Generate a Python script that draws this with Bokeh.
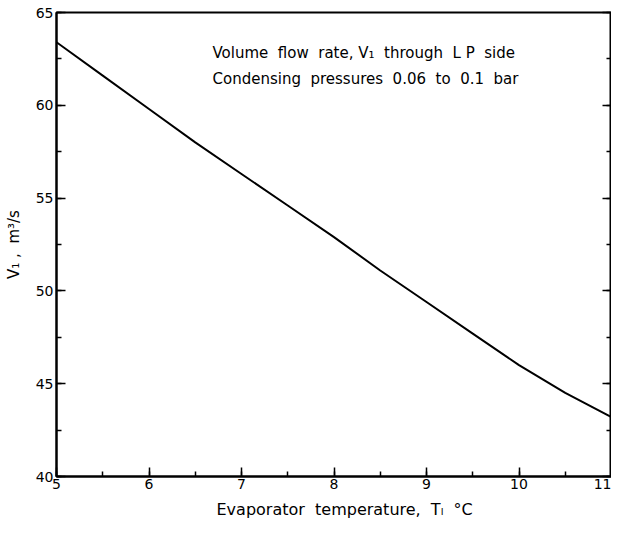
from bokeh.plotting import figure
from bokeh.models import LinearAxis, SingleIntervalTicker, Label, Range1d, CustomJSTickFormatter, Title
from bokeh.embed import file_html
from bokeh.resources import INLINE

# Data
evap_temp = [5.0, 5.5, 6.0, 6.5, 7.0, 7.5, 8.0, 8.5, 9.0, 9.5, 10.0, 10.5, 11.0]
volume_flow = [63.4, 61.6, 59.8, 58.0, 56.3, 54.6, 52.9, 51.1, 49.4, 47.7, 46.0, 44.5, 43.2]

NB = "\u00a0"
x_title = f"Evaporator{NB}{NB}temperature,{NB}{NB}Tₗ{NB}{NB}°C"
y_title = f"V₁{NB},{NB}{NB}m³/s"
note_lines = [f"Volume{NB}{NB}flow{NB}{NB}rate,{NB}V₁{NB}{NB}through{NB}{NB}L{NB}P{NB}{NB}side",
              f"Condensing{NB}{NB}pressures{NB}{NB}0.06{NB}{NB}to{NB}{NB}0.1{NB}{NB}bar"]

FONT = "DejaVu Sans"

p = figure(width=611, height=524, output_backend="svg", toolbar_location=None,
           x_range=Range1d(5, 11), y_range=Range1d(40, 65),
           min_border_left=56, min_border_right=0, min_border_top=12, min_border_bottom=48)
p.background_fill_color = "white"
p.border_fill_color = "white"
p.grid.visible = False
p.outline_line_color = "black"
p.outline_line_width = 2

p.line(evap_temp, volume_flow, line_color="black", line_width=2)

for ax in (p.xaxis[0], p.yaxis[0]):
    ax.axis_line_width = 2
    ax.axis_line_color = "black"
    ax.major_tick_in = 9
    ax.major_tick_out = 0
    ax.minor_tick_in = 5
    ax.minor_tick_out = 0
    ax.major_tick_line_width = 1.5
    ax.minor_tick_line_width = 1.5
    ax.major_label_text_font = FONT
    ax.major_label_text_font_size = "14px"
    ax.major_label_text_color = "black"
    ax.major_label_standoff = 3

p.xaxis[0].ticker = SingleIntervalTicker(interval=1, num_minor_ticks=2)
p.yaxis[0].ticker = SingleIntervalTicker(interval=5, num_minor_ticks=2)
p.xaxis[0].major_label_standoff = 2

p.yaxis[0].axis_label = y_title
p.yaxis[0].axis_label_text_font = FONT
p.yaxis[0].axis_label_text_font_size = "15px"
p.yaxis[0].axis_label_text_font_style = "normal"
p.yaxis[0].axis_label_text_color = "black"
p.yaxis[0].axis_label_standoff = 10

right = LinearAxis(ticker=SingleIntervalTicker(interval=5, num_minor_ticks=2),
                   formatter=CustomJSTickFormatter(code="return ''"),
                   major_tick_in=9, major_tick_out=0, minor_tick_in=5, minor_tick_out=0,
                   axis_line_width=2, major_label_standoff=0,
                   major_tick_line_width=1.5, minor_tick_line_width=1.5)
p.add_layout(right, "right")

# screen units here are measured from the frame's bottom-left corner
for i, t in enumerate(note_lines):
    p.add_layout(Label(x=156, y=424 - 26 * i, x_units="screen", y_units="screen",
                       text=t, text_font=FONT, text_font_size="15px",
                       text_baseline="middle", text_align="left", text_color="black"))

p.add_layout(Title(text=x_title, align="left", offset=160, standoff=12,
                   text_font=FONT, text_font_size="16px", text_font_style="normal",
                   text_color="black"), "below")

open("out.html", "w").write(file_html(p, INLINE))
